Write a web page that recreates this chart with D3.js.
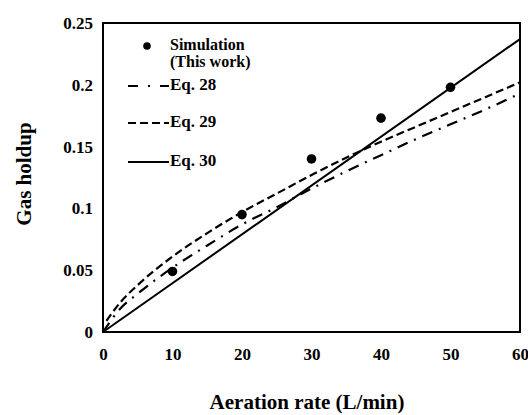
<!DOCTYPE html>
<html>
<head>
<meta charset="utf-8">
<script src="https://cdn.jsdelivr.net/npm/d3@7"></script>
<style>
  body { margin: 0; background: #fff; }
  svg text { font-family: "Times New Roman", "Liberation Serif", serif !important; font-weight: bold; fill: #000; }
</style>
</head>
<body>
<div id="chart"></div>
<script>
// simulation points
var simX = [10, 20, 30, 40, 50];
var simY = [0.049, 0.095, 0.140, 0.173, 0.198];

// correlation curves
var eq28X = [0, 2.5, 5, 10, 15, 20, 25, 30, 35, 40, 45, 50, 55, 60];
var eq28Y = [0, 0.019, 0.031, 0.052, 0.070, 0.087, 0.101, 0.116, 0.130, 0.143, 0.156, 0.168, 0.180, 0.193];

var eq29X = [0.5, 1, 2.5, 5, 10, 15, 20, 25, 30, 35, 40, 45, 50, 55, 60];
var eq29Y = [0.009, 0.013, 0.024, 0.038, 0.061, 0.080, 0.097, 0.112, 0.127, 0.141, 0.154, 0.166, 0.178, 0.190, 0.202];

var eq30X = [0, 60];
var eq30Y = [0, 0.237];

var xTicks = [0, 10, 20, 30, 40, 50, 60];
var yTicks = [0, 0.05, 0.1, 0.15, 0.2, 0.25];
var yTickLabels = ["0", "0.05", "0.1", "0.15", "0.2", "0.25"];

var W = 528, H = 415;
var m = {left: 103, top: 23, right: 8, bottom: 83};
var w = W - m.left - m.right,
    h = H - m.top - m.bottom;

var svg = d3.select("#chart").append("svg")
    .attr("width", W)
    .attr("height", H);

var g = svg.append("g").attr("transform", "translate(" + m.left + "," + m.top + ")");

var x = d3.scaleLinear().domain([0, 60]).range([0, w]);
var y = d3.scaleLinear().domain([0, 0.25]).range([h, 0]);

// axes (labels only, no tick marks)
var xAxis = d3.axisBottom(x).tickValues(xTicks).tickSize(0).tickPadding(16);
g.append("g")
    .attr("transform", "translate(0," + h + ")")
    .call(xAxis)
    .call(function(s) { s.select(".domain").remove(); })
    .selectAll("text")
    .style("font-size", "17px");

var yAxis = d3.axisLeft(y).tickValues(yTicks).tickSize(0).tickPadding(10)
    .tickFormat(function(d, i) { return yTickLabels[i]; });
g.append("g")
    .call(yAxis)
    .call(function(s) { s.select(".domain").remove(); })
    .selectAll("text")
    .style("font-size", "17px");

// frame
g.append("rect")
    .attr("x", 0).attr("y", 0)
    .attr("width", w).attr("height", h)
    .attr("fill", "none")
    .attr("stroke", "#000")
    .attr("stroke-width", 2);

var line = d3.line()
    .x(function(d) { return x(d[0]); })
    .y(function(d) { return y(d[1]); })
    .curve(d3.curveMonotoneX);

function pairs(xs, ys) { return xs.map(function(v, i) { return [v, ys[i]]; }); }

g.append("path").datum(pairs(eq28X, eq28Y))
    .attr("d", line).attr("fill", "none").attr("stroke", "#000")
    .attr("stroke-width", 2.2).attr("stroke-dasharray", "11,7,2,7");

g.append("path").datum(pairs(eq29X, eq29Y))
    .attr("d", line).attr("fill", "none").attr("stroke", "#000")
    .attr("stroke-width", 2.2).attr("stroke-dasharray", "8,4");

g.append("path").datum(pairs(eq30X, eq30Y))
    .attr("d", line).attr("fill", "none").attr("stroke", "#000")
    .attr("stroke-width", 2);

g.selectAll(".sim").data(pairs(simX, simY)).enter()
    .append("circle")
    .attr("class", "sim")
    .attr("cx", function(d) { return x(d[0]); })
    .attr("cy", function(d) { return y(d[1]); })
    .attr("r", 4.8)
    .attr("fill", "#000");

// legend
var leg = svg.append("g");
leg.append("circle").attr("cx", 147).attr("cy", 46).attr("r", 3.8).attr("fill", "#000");
leg.append("text").attr("x", 170).attr("y", 50).style("font-size", "16px").text("Simulation");
leg.append("text").attr("x", 170).attr("y", 67).style("font-size", "16px").text("(This work)");

var legItems = [
  {label: "Eq. 28", dash: "10,10,2,10", y: 86},
  {label: "Eq. 29", dash: "8,4", y: 123},
  {label: "Eq. 30", dash: null, y: 162}
];
legItems.forEach(function(it) {
  leg.append("line")
    .attr("x1", 128).attr("x2", 169)
    .attr("y1", it.y).attr("y2", it.y)
    .attr("stroke", "#000").attr("stroke-width", 2)
    .attr("stroke-dasharray", it.dash);
  leg.append("text").attr("x", 170).attr("y", it.y + 4).style("font-size", "17px").text(it.label);
});

// axis titles
svg.append("text")
    .attr("transform", "translate(31,174) rotate(-90)")
    .attr("text-anchor", "middle")
    .style("font-size", "21px")
    .text("Gas holdup");

svg.append("text")
    .attr("x", 307).attr("y", 409)
    .attr("text-anchor", "middle")
    .style("font-size", "21px")
    .text("Aeration rate (L/min)");
</script>
</body>
</html>
